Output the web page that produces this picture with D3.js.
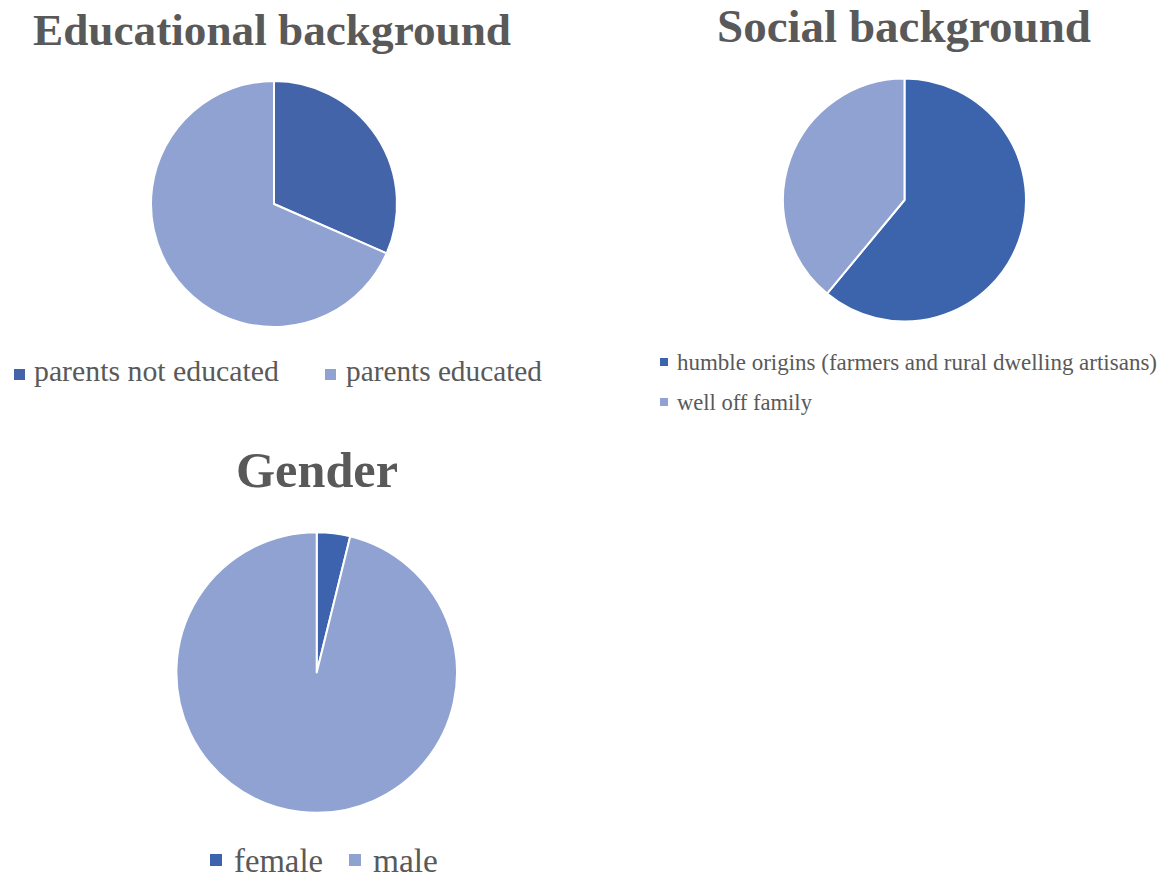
<!DOCTYPE html>
<html>
<head>
<meta charset="utf-8">
<script src="https://cdn.jsdelivr.net/npm/d3@7/dist/d3.min.js"></script>
<style>
  html, body { margin: 0; padding: 0; background: #ffffff; }
  svg { display: block; }
  text { font-family: "Liberation Serif", "DejaVu Serif", serif; fill: #595959; }
</style>
</head>
<body>
<svg id="chart" width="1164" height="878"></svg>
<script>
// Survey composition, as shares of respondents
const educationCategories = ["parents not educated", "parents educated"];
const educationValues = [6, 13];

const socialCategories = ["humble origins (farmers and rural dwelling artisans)", "well off family"];
const socialValues = [61, 39];

const genderCategories = ["female", "male"];
const genderValues = [1, 25];

const titles = ["Educational background", "Social background", "Gender"];

const svg = d3.select("#chart");

// Set a text's font size so that its rendered width equals the target width
function fitWidth(sel, targetWidth) {
  const base = parseFloat(sel.attr("font-size"));
  const w = sel.node().getComputedTextLength();
  sel.attr("font-size", (base * targetWidth / w).toFixed(2));
  return sel;
}

function drawPie(cfg) {
  const g = svg.append("g");
  const color = d3.scaleOrdinal().domain(cfg.categories).range(cfg.colors);
  const pie = d3.pie().sort(null).value(d => d.value);
  const arc = d3.arc().innerRadius(0).outerRadius(cfg.r);
  const data = cfg.categories.map((c, i) => ({ name: c, value: cfg.values[i] }));

  // title
  const t = g.append("text")
    .attr("x", cfg.titleX)
    .attr("y", cfg.titleY)
    .attr("text-anchor", "middle")
    .attr("font-size", 44)
    .attr("font-weight", "bold")
    .text(cfg.title);
  fitWidth(t, cfg.titleW);

  // slices
  g.append("g")
    .attr("transform", `translate(${cfg.cx},${cfg.cy})`)
    .selectAll("path")
    .data(pie(data))
    .join("path")
    .attr("d", arc)
    .attr("fill", d => color(d.data.name))
    .attr("stroke", "#ffffff")
    .attr("stroke-width", 2)
    .attr("stroke-linejoin", "round");

  // legend
  const items = g.append("g").selectAll("g")
    .data(cfg.legend)
    .join("g");
  items.append("rect")
    .attr("x", d => d.sx)
    .attr("y", d => d.sy)
    .attr("width", cfg.sq)
    .attr("height", cfg.sq)
    .attr("fill", (d, i) => color(cfg.categories[i]));
  items.append("text")
    .attr("x", d => d.tx)
    .attr("y", d => d.ty)
    .attr("font-size", cfg.legendSize)
    .text((d, i) => cfg.categories[i])
    .each(function (d) { fitWidth(d3.select(this), d.tw); });
}

drawPie({
  title: titles[0], titleX: 272, titleY: 45, titleW: 478,
  categories: educationCategories, values: educationValues,
  colors: ["#4364a8", "#8fa2d2"],
  cx: 274, cy: 204, r: 123,
  sq: 11, legendSize: 26,
  legend: [
    { sx: 14, sy: 369, tx: 34, ty: 381, tw: 245 },
    { sx: 325, sy: 369, tx: 346, ty: 381, tw: 196 }
  ]
});

drawPie({
  title: titles[1], titleX: 904, titleY: 42, titleW: 374,
  categories: socialCategories, values: socialValues,
  colors: ["#3c64ad", "#8fa2d2"],
  cx: 904.5, cy: 200, r: 121.5,
  sq: 8, legendSize: 20,
  legend: [
    { sx: 660, sy: 358, tx: 677, ty: 370, tw: 480 },
    { sx: 660, sy: 398, tx: 677, ty: 410, tw: 135 }
  ]
});

drawPie({
  title: titles[2], titleX: 317, titleY: 487, titleW: 162,
  categories: genderCategories, values: genderValues,
  colors: ["#3e63ae", "#8fa2d2"],
  cx: 316.7, cy: 672.5, r: 140.3,
  sq: 12, legendSize: 28,
  legend: [
    { sx: 210, sy: 854, tx: 234, ty: 872, tw: 89 },
    { sx: 349, sy: 854, tx: 373, ty: 872, tw: 65 }
  ]
});
</script>
</body>
</html>
